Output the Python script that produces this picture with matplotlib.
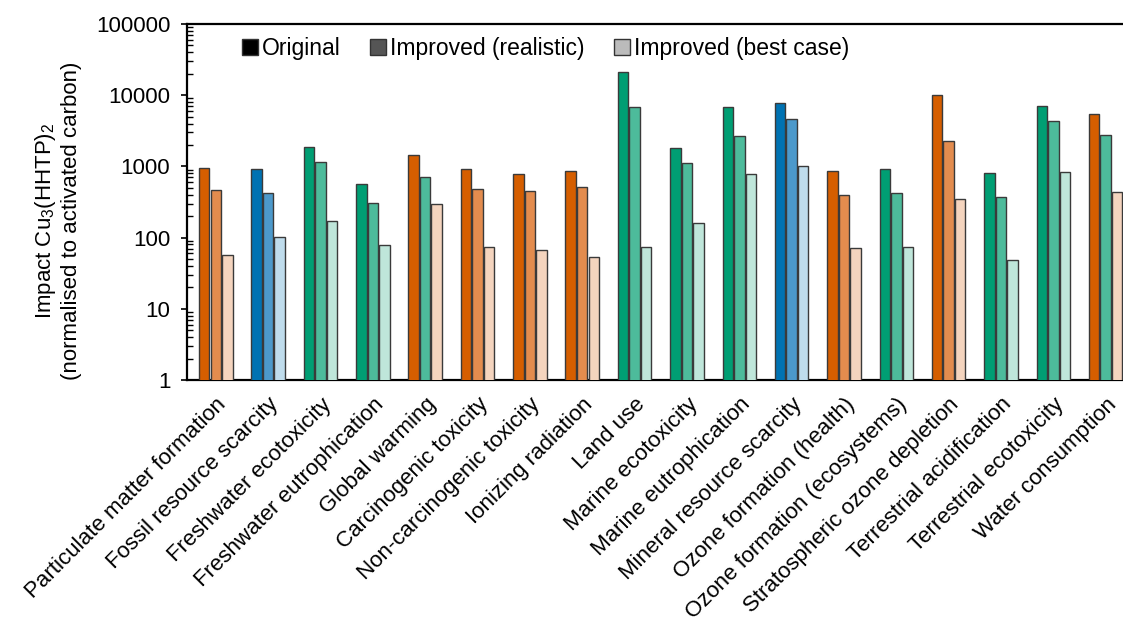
import numpy as np
from matplotlib import pyplot as plt
from matplotlib.patches import Patch

plt.rcParams['font.family'] = ['Liberation Sans', 'DejaVu Sans']
plt.rcParams['mathtext.fontset'] = 'custom'
plt.rcParams['mathtext.rm'] = 'Liberation Sans'
plt.rcParams['mathtext.it'] = 'Liberation Sans:italic'

categories = ['Particulate matter formation', 'Fossil resource scarcity', 'Freshwater ecotoxicity',
              'Freshwater eutrophication', 'Global warming', 'Carcinogenic toxicity',
              'Non-carcinogenic toxicity', 'Ionizing radiation', 'Land use', 'Marine ecotoxicity',
              'Marine eutrophication', 'Mineral resource scarcity', 'Ozone formation (health)',
              'Ozone formation (ecosystems)', 'Stratospheric ozone depletion',
              'Terrestrial acidification', 'Terrestrial ecotoxicity', 'Water consumption']

original = [960, 930, 1900, 565, 1430, 910, 775, 870, 21400, 1830, 6900, 7700, 860, 920, 10200, 800, 7100, 5400]
realistic = [466, 427, 1160, 310, 700, 477, 450, 508, 6770, 1100, 2700, 4700, 400, 419, 2250, 372, 4340, 2790]
best_case = [57, 102, 169, 78, 299, 74, 66, 53, 73, 162, 789, 1020, 71, 74, 352, 48, 834, 432]

# colour family per bar: o = orange, b = blue, g = green
fam_orig = ['o', 'b', 'g', 'g', 'o', 'o', 'o', 'o', 'g', 'g', 'g', 'b', 'o', 'g', 'o', 'g', 'g', 'o']
fam_real = ['o', 'b', 'g', 'g', 'g', 'o', 'o', 'o', 'g', 'g', 'g', 'b', 'o', 'g', 'o', 'g', 'g', 'g']
fam_best = ['o', 'b', 'g', 'g', 'o', 'o', 'o', 'o', 'g', 'g', 'g', 'b', 'o', 'g', 'o', 'g', 'g', 'o']

shades = {
    'o': ['#D55E00', '#E38C4E', '#F4D4BE'],
    'b': ['#0072B2', '#4C99CB', '#BFDCEC'],
    'g': ['#009E73', '#4DBB9B', '#BFE6DA'],
}

fig = plt.figure(figsize=(11.23, 6.26), dpi=100)
ax = fig.add_axes([0.1665, 0.393, 0.8335, 0.5687])

x = np.arange(len(categories))
w = 0.2
step = 0.22
for i, (vals, fams) in enumerate([(original, fam_orig), (realistic, fam_real), (best_case, fam_best)]):
    cols = [shades[f][i] for f in fams]
    ax.bar(x + (i - 1) * step, vals, width=w, color=cols, edgecolor='#3a3a3a', linewidth=1.0, zorder=3)

ax.set_yscale('log')
ax.set_ylim(1, 100000)
ax.set_xlim(-0.55, 17.33)
ax.set_yticks([1, 10, 100, 1000, 10000, 100000])
ax.set_yticklabels(['1', '10', '100', '1000', '10000', '100000'], fontsize=16)
ax.tick_params(axis='y', which='major', direction='out', length=4, width=1.2, pad=8)
ax.tick_params(axis='y', which='minor', direction='in', length=4, width=1.0)

ax.set_xticks(x)
ax.set_xticklabels(categories, rotation=45, ha='right', rotation_mode='anchor', fontsize=16)
ax.tick_params(axis='x', length=0, pad=10)

for s in ['left', 'bottom', 'top']:
    ax.spines[s].set_linewidth(1.6)
ax.spines['right'].set_visible(False)

ax.set_ylabel('Impact Cu$_3$(HHTP)$_2$\n(normalised to activated carbon)', fontsize=16)
ax.yaxis.set_label_coords(-0.112, 0.447)

handles = [Patch(facecolor='black', edgecolor='#333333'),
           Patch(facecolor='#555555', edgecolor='#333333'),
           Patch(facecolor='#BBBBBB', edgecolor='#333333')]
ax.legend(handles, ['Original', 'Improved (realistic)', 'Improved (best case)'], ncol=3,
          loc='upper left', bbox_to_anchor=(0.037, 1.02), frameon=False, fontsize=16.5,
          handlelength=0.7, handleheight=0.7, handletextpad=0.15, columnspacing=1.3)

plt.savefig('out.png', dpi=100)
